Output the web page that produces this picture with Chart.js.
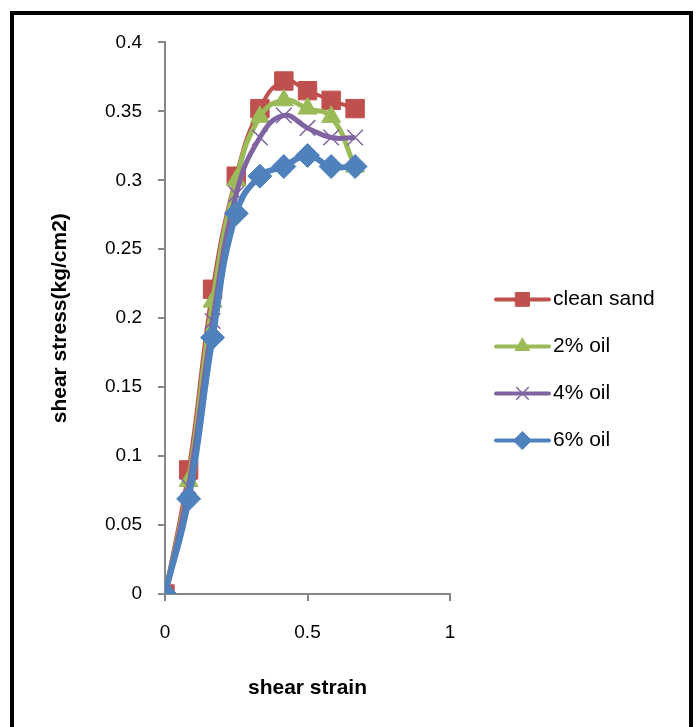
<!DOCTYPE html>
<html>
<head>
<meta charset="utf-8">
<script src="https://cdn.jsdelivr.net/npm/chart.js@4"></script>
<style>
  html, body { margin: 0; padding: 0; background: #fff; }
  #frame {
    position: absolute; left: 10px; top: 11px;
    width: 675px; height: 720px;
    border: 4px solid #000; border-bottom: none;
  }
  #wrap { position: absolute; left: 0; top: 0; width: 675px; height: 716px; }
</style>
</head>
<body>
<div id="frame"><div id="wrap"><canvas id="canvas1"></canvas></div></div>
<script>
// shear strain values
var strain = [0, 0.083, 0.167, 0.25, 0.333, 0.417, 0.5, 0.583, 0.667];
// shear stress (kg/cm2) for each sample
var cleanSand = [0, 0.09, 0.221, 0.303, 0.352, 0.372, 0.365, 0.358, 0.352];
var oil2 = [0, 0.082, 0.212, 0.30, 0.346, 0.358, 0.352, 0.346, 0.31];
var oil4 = [0, 0.078, 0.198, 0.29, 0.331, 0.347, 0.338, 0.331, 0.331];
var oil6 = [0, 0.069, 0.186, 0.276, 0.303, 0.31, 0.318, 0.31, 0.31];
var seriesNames = ["clean sand", "2% oil", "4% oil", "6% oil"];
var xTicks = [0, 0.5, 1];
var yTicks = [0, 0.05, 0.1, 0.15, 0.2, 0.25, 0.3, 0.35, 0.4];

var font = "'Liberation Sans', Arial, sans-serif";

function pts(ys) {
    return ys.map(function (y, i) { return { x: strain[i], y: y }; });
}

function fmt(v) {
    return String(Math.round(v * 100) / 100);
}

var styles = [
    { color: "#C0504D", style: "rect", radius: 13, width: 4, data: cleanSand, order: 4 },
    { color: "#9BBB59", style: "triangle", radius: 11, width: 5, data: oil2, order: 3 },
    { color: "#8064A2", style: "crossRot", radius: 11, width: 5, data: oil4, order: 2 },
    { color: "#4F81BD", style: "rectRot", radius: 12, width: 6, data: oil6, order: 1 }
];

var datasets = styles.map(function (s, i) {
    return {
        label: seriesNames[i],
        data: pts(s.data),
        showLine: true,
        borderColor: s.color,
        backgroundColor: s.color,
        borderWidth: s.width,
        pointStyle: s.style,
        pointRadius: s.radius,
        pointBorderWidth: s.style === "crossRot" ? 1.5 : 1,
        pointBorderColor: s.color,
        tension: 0.45,
        order: s.order
    };
});

// legend with a line through each marker, drawn on the right
var sideLegend = {
    id: "sideLegend",
    afterDraw: function (chart) {
        var ctx = chart.ctx;
        var area = chart.chartArea;
        var x0 = area.right + 46, x1 = x0 + 53;
        var y0 = area.top + 257, gap = 47;
        ctx.save();
        ctx.font = "21px " + font;
        ctx.textBaseline = "middle";
        styles.forEach(function (s, i) {
            var y = y0 + i * gap;
            ctx.strokeStyle = s.color;
            ctx.lineWidth = 4;
            ctx.lineCap = "round";
            ctx.beginPath();
            ctx.moveTo(x0, y);
            ctx.lineTo(x1, y);
            ctx.stroke();
            ctx.fillStyle = s.color;
            ctx.lineWidth = s.style === "crossRot" ? 1.5 : 1;
            Chart.helpers.drawPoint(ctx, { pointStyle: s.style, radius: s.radius * 0.75, rotation: 0, borderWidth: 1 }, (x0 + x1) / 2, y);
            ctx.fillStyle = "#000";
            ctx.fillText(seriesNames[i], x1 + 4, y);
        });
        ctx.restore();
    }
};

new Chart(document.getElementById("canvas1"), {
    type: "scatter",
    data: { datasets: datasets },
    plugins: [sideLegend],
    options: {
        responsive: true,
        maintainAspectRatio: false,
        animation: false,
        layout: { padding: { left: 30, right: 239, top: 21, bottom: 0 } },
        plugins: {
            legend: { display: false },
            tooltip: { enabled: false }
        },
        scales: {
            x: {
                type: "linear",
                min: 0, max: 1,
                afterBuildTicks: function (scale) {
                    scale.ticks = xTicks.map(function (v) { return { value: v }; });
                },
                afterFit: function (scale) { scale.height = 137; },
                grid: { drawOnChartArea: false, tickLength: 7, color: "#868686", lineWidth: 2 },
                border: { color: "#868686", width: 2 },
                ticks: { color: "#000", padding: 20, font: { family: font, size: 19 }, callback: fmt },
                title: {
                    display: true, text: "shear strain", color: "#000",
                    font: { family: font, size: 21, weight: "bold" },
                    padding: { top: 0, bottom: 30 }
                }
            },
            y: {
                type: "linear",
                min: 0, max: 0.4,
                afterBuildTicks: function (scale) {
                    scale.ticks = yTicks.map(function (v) { return { value: v }; });
                },
                afterFit: function (scale) { scale.width = 121; },
                grid: { drawOnChartArea: false, tickLength: 7, color: "#868686", lineWidth: 2 },
                border: { color: "#868686", width: 2 },
                ticks: { color: "#000", padding: 16, font: { family: font, size: 19 }, callback: fmt },
                title: {
                    display: true, text: "shear stress(kg/cm2)", color: "#000",
                    font: { family: font, size: 21, weight: "bold" },
                    padding: { bottom: 4 }
                }
            }
        }
    }
});
</script>
</body>
</html>
